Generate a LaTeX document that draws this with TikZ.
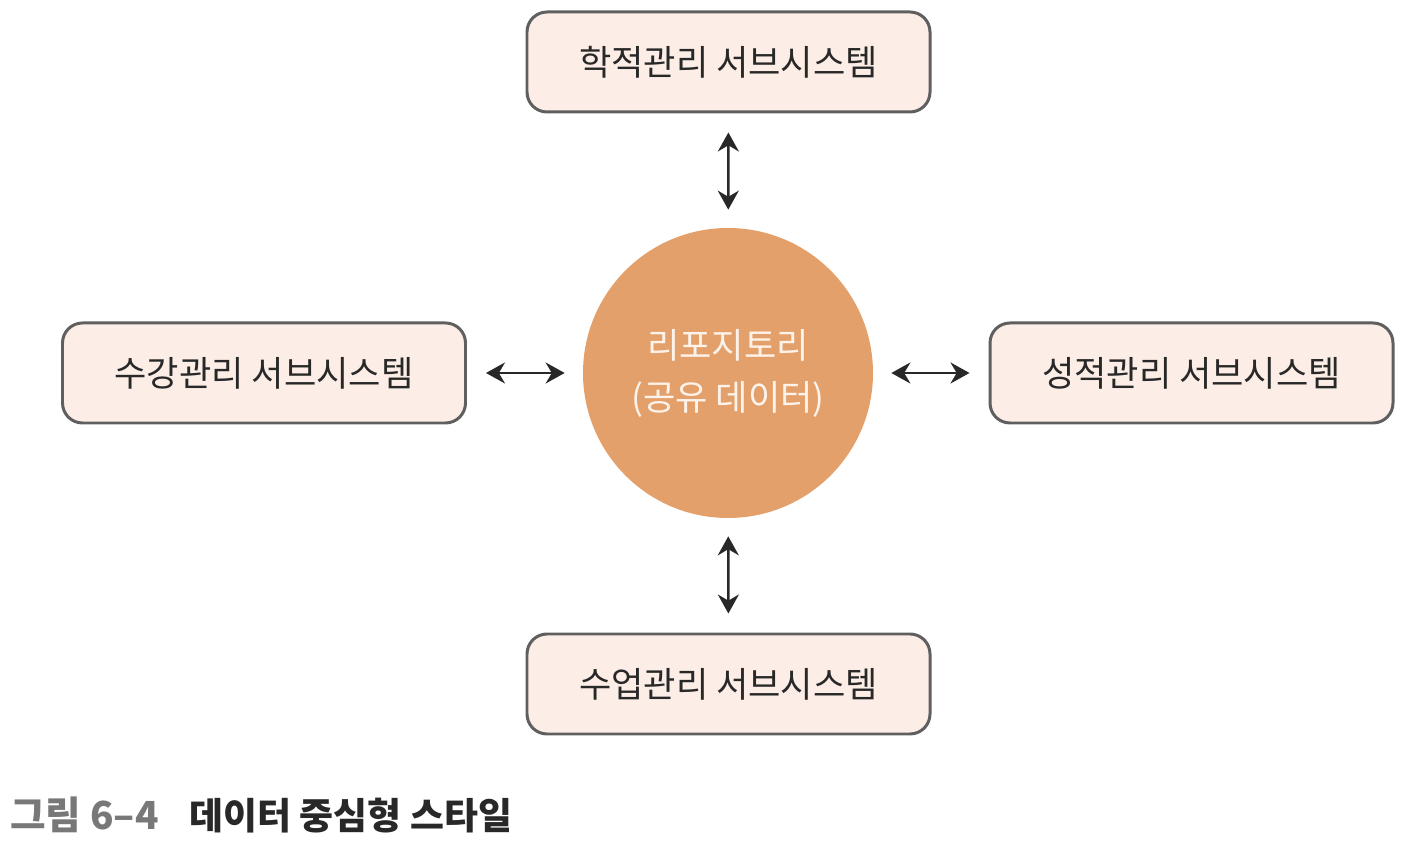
\documentclass[tikz,border=0pt]{standalone}
\usepackage{fontspec}
\setmainfont{Noto Sans CJK KR}
\usepackage{xcolor}
\definecolor{boxfill}{RGB}{252, 238, 230}
\definecolor{boxline}{RGB}{95, 95, 95}
\definecolor{repofill}{RGB}{227, 160, 106}
\definecolor{repotext}{RGB}{253, 243, 235}
\definecolor{captiongray}{RGB}{120, 120, 120}
\definecolor{textdark}{RGB}{40, 40, 40}
\usepackage{tikz}
\usetikzlibrary{arrows.meta, positioning}

\begin{document}
\begin{tikzpicture}[
			box/.style={rectangle, rounded corners=0.4cm, draw=boxline, line width=1.7pt,
				fill=boxfill, text=textdark,
				minimum width=8.06cm, minimum height=2cm,
				font=\fontsize{20}{24}\selectfont},
			repo/.style={circle, fill=repofill, text=repotext,
				minimum size=5.8cm, align=center,
				font=\fontsize{20}{29.6}\selectfont},
			arr/.style={{Stealth[length=0.38cm, width=0.42cm]}-{Stealth[length=0.38cm, width=0.42cm]},
				line width=1.4pt, draw=textdark,
				shorten <=0.38cm, shorten >=0.36cm}
			]
			\useasboundingbox (0,0) rectangle (28.08,17);
			\node[repo] (repo)     at (14.56, 9.54) {리포지토리\\(공유 데이터)};
			\node[box]  (hakjeok)  at (14.57,15.76) {학적관리 서브시스템};
			\node[box]  (sugang)   at ( 5.28, 9.54) {수강관리 서브시스템};
			\node[box]  (seongjeok)at (23.83, 9.54) {성적관리 서브시스템};
			\node[box]  (sueop)    at (14.57, 3.32) {수업관리 서브시스템};
			\node[anchor=west, inner sep=0pt, text=textdark,
				font=\fontsize{21}{24}\selectfont\bfseries] (caption) at (0.2, 0.7)
				{{\color{captiongray}\fontsize{22}{24}\selectfont 그림 6–4}\hspace{0.62cm}데이터 중심형 스타일};
			
			\draw[arr] (hakjeok)   -- (repo);
			\draw[arr] (sugang)    -- (repo);
			\draw[arr] (seongjeok) -- (repo);
			\draw[arr] (sueop)     -- (repo);
		\end{tikzpicture}
\end{document}
